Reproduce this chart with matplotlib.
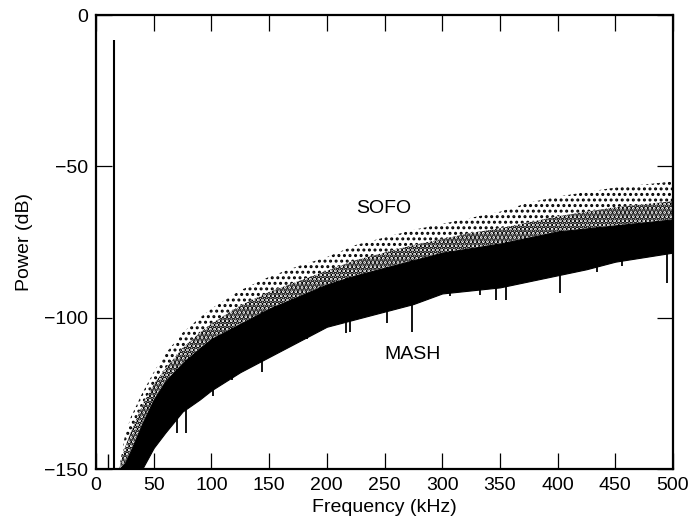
import matplotlib
matplotlib.use("Agg")
import matplotlib.pyplot as plt
import numpy as np

plt.rcParams['font.family'] = ['Liberation Sans', 'DejaVu Sans']

# Envelopes (frequency in kHz, power in dB)
env_freq = [20, 25, 30, 40, 50, 60, 75, 90, 100, 125, 150, 175, 200, 225, 250,
            275, 300, 325, 350, 375, 400, 425, 450, 475, 500]
sofo_top = [-150, -139, -133, -125, -118, -112, -105, -100, -97, -91, -86.5, -83,
            -80, -76, -73.5, -71, -69, -67, -65, -62, -60, -58.5, -57, -56, -55]
sofo_mid = [-150, -143, -138, -129, -122, -117, -110, -105, -102, -96, -91.5, -88,
            -84.5, -81, -78.5, -76, -74, -72, -70.5, -68.5, -66.5, -65, -63.5, -62.5, -61.5]
mash_top = [-150, -148, -144, -135, -127, -121, -115, -110, -107, -102, -97, -93,
            -89, -86, -83.5, -81, -78.5, -77, -75.5, -73.5, -71.5, -70.5, -69.5, -68.5, -67.5]
mash_low = [-150, -150, -150, -150, -143, -138, -131, -127, -124, -118, -113, -108,
            -103, -100.5, -98, -95.5, -92, -91, -90, -88, -86, -84, -81.5, -80, -78.5]

# Deep individual dips of the MASH trace (kHz, dB)
dip_freq = [70, 78, 81, 101, 107, 118, 127, 144, 155, 170, 183, 194, 209, 217, 220,
            252, 274, 307, 333, 347, 355, 372, 402, 434, 456, 495]
dip_db = [-138, -138, -129.5, -126, -118, -120.6, -115.6, -118, -110.7, -107, -107,
          -103, -100.8, -105, -104.7, -101.7, -104.7, -93, -92.5, -94, -94, -87.5,
          -92, -85, -83, -88.5]

# Signal tone and small line near the floor
tone_freq = 15.6
tone_db = -8.3
floor_line_freq = 10
floor_line_db = -145

labels = {"SOFO": (249.6, -64), "MASH": (274.7, -112.3)}

fig = plt.figure(figsize=(6.95, 5.27), dpi=100)
ax = fig.add_axes([96/695, 1-469/527, (673-96)/695, (469-15)/527])

plt.rcParams['hatch.linewidth'] = 1.4
ax.fill_between(env_freq, sofo_mid, sofo_top, facecolor='white', edgecolor='black',
                hatch='...', linewidth=0)
plt.rcParams['hatch.linewidth'] = 2.6
ax.fill_between(env_freq, mash_top, sofo_mid, facecolor='white', edgecolor='black',
                hatch='....', linewidth=0)
ax.fill_between(env_freq, mash_low, mash_top, facecolor='black', edgecolor='black',
                linewidth=0.8)
ax.vlines(dip_freq, [np.interp(f, env_freq, mash_top) for f in dip_freq], dip_db,
          color='black', linewidth=1.3)
ax.vlines([tone_freq], -150, tone_db, color='black', linewidth=1.5)
ax.vlines([floor_line_freq], -150, floor_line_db, color='black', linewidth=1.0)

for txt, (fx, fy) in labels.items():
    ax.text(fx, fy, txt, ha='center', va='center', fontsize=14)

ax.set_xlim(0, 500)
ax.set_ylim(-150, 0)
ax.set_xticks(np.arange(0, 501, 50))
ax.set_yticks([-150, -100, -50, 0])
ax.tick_params(direction='in', length=11.5, width=0.9, top=True, right=True,
               labelsize=14, pad=6)
for s in ax.spines.values():
    s.set_linewidth(1.6)
ax.set_xlabel('Frequency (kHz)', fontsize=14, labelpad=3)
ax.set_ylabel('Power (dB)', fontsize=14, labelpad=8)

fig.savefig('out.png', dpi=100)
